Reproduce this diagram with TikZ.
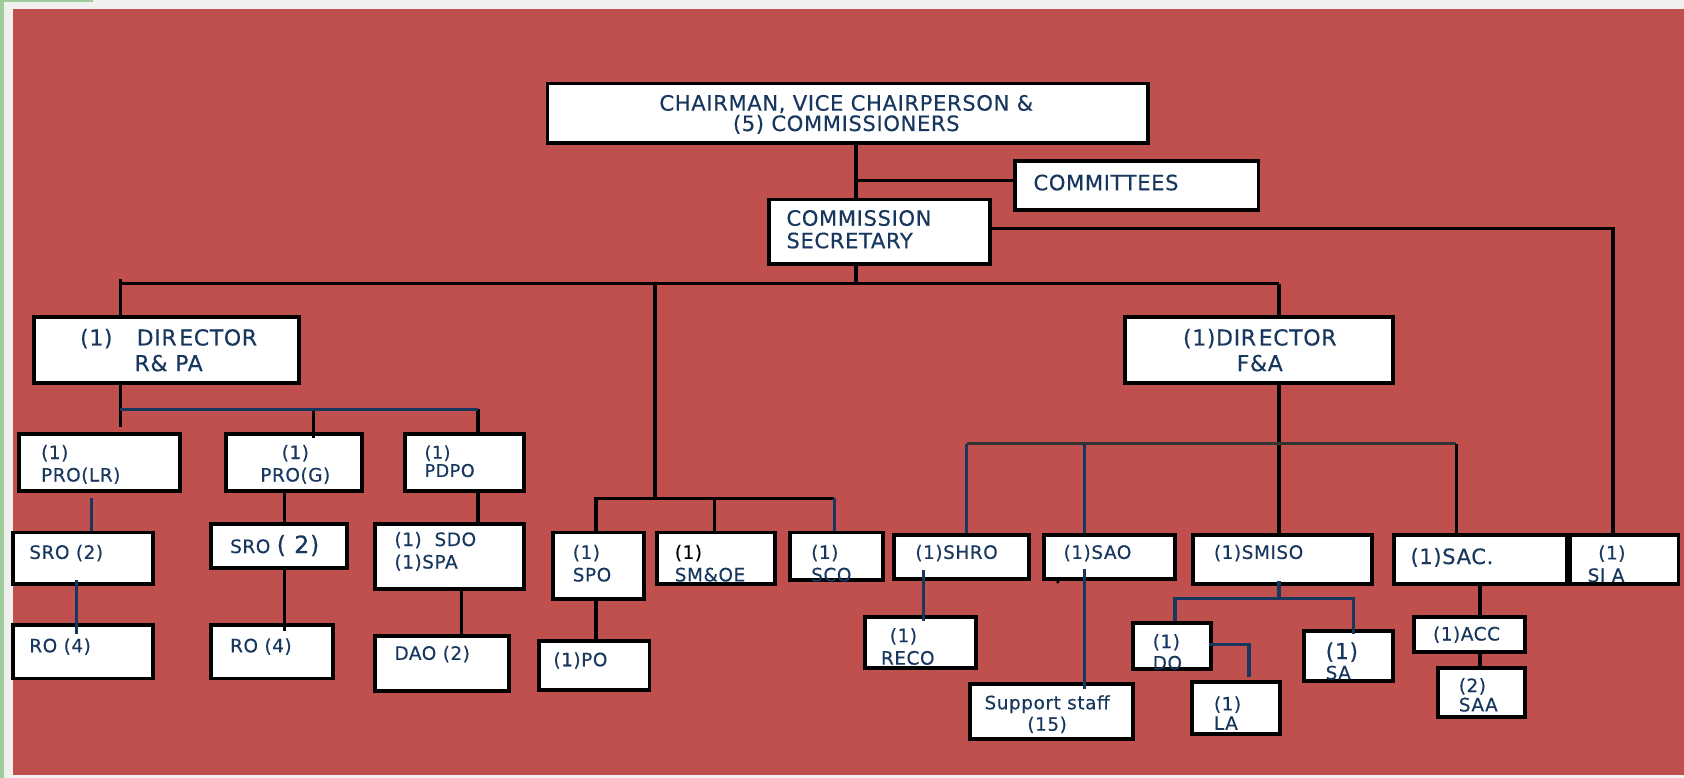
\documentclass[tikz,border=0pt]{standalone}
\usepackage{fontspec}
\setmainfont{DejaVu Sans}
\newfontfamily\orgfont[LetterSpace=3, FakeBold=0.4]{DejaVu Sans}
\usetikzlibrary{calc}
\definecolor{bgred}{HTML}{C0504D}
\definecolor{navy}{HTML}{17375E}
\definecolor{edgegreen}{HTML}{9DCC9A}
\definecolor{paper}{HTML}{F0F0F0}
\def\pxu{0.02148cm}
\tikzset{
  orgbox/.style={draw=black, fill=white, line width=2.2pt, inner sep=0pt, anchor=north west},
  wh/.style 2 args={minimum width=#1*\pxu, minimum height=#2*\pxu},
  bigtxt/.style={text=navy, inner sep=0pt, font=\orgfont\fontsize{12}{12.8}\selectfont},
  smalltxt/.style={text=navy, inner sep=0pt, font=\orgfont\fontsize{10.5}{12.8}\selectfont},
  conn/.style={draw=black, line width=1.9pt},
  bconn/.style={draw=navy, line width=1.9pt},
}

\begin{document}
\begin{tikzpicture}[x=\pxu, y=-\pxu]
        % page and background
        \useasboundingbox (0,0) rectangle (1568,724);
        \fill[paper] (0,0) rectangle (1568,724);
        \fill[edgegreen] (0,0) rectangle (4,724);
        \fill[edgegreen] (0,0) rectangle (87,2);
        \fill[bgred] (12,8) rectangle (1568,722);
        % boxes
        \node[orgbox, wh={559}{55}] (chair) at (508,76) {};
        \node[orgbox, wh={227}{46}] (comm) at (943,148) {};
        \node[orgbox, wh={206}{60}] (csec) at (714,184) {};
        \node[orgbox, wh={247}{62}] (dirR) at (30,293) {};
        \node[orgbox, wh={249}{62}] (dirF) at (1046,293) {};
        \node[orgbox, wh={150}{53}] (prolr) at (16,402) {};
        \node[orgbox, wh={126}{53}] (prog) at (209,402) {};
        \node[orgbox, wh={111}{53}] (pdpo) at (375,402) {};
        \node[orgbox, wh={131}{48}] (sroA) at (10,494) {};
        \node[orgbox, wh={131}{50}] (roA) at (10,580) {};
        \node[orgbox, wh={126}{41}] (sroB) at (195,486) {};
        \node[orgbox, wh={113}{50}] (roB) at (195,580) {};
        \node[orgbox, wh={139}{61}] (sdo) at (347,486) {};
        \node[orgbox, wh={125}{52}] (dao) at (347,590) {};
        \node[orgbox, wh={85}{62}] (spo) at (513,494) {};
        \node[orgbox, wh={110}{48}] (smoe) at (610,494) {};
        \node[orgbox, wh={86}{44}] (sco) at (734,494) {};
        \node[orgbox, wh={103}{46}] (po) at (500,595) {};
        \node[orgbox, wh={125}{41}] (shro) at (831,496) {};
        \node[orgbox, wh={122}{41}] (sao) at (970,496) {};
        \node[orgbox, wh={167}{46}] (smiso) at (1109,496) {};
        \node[orgbox, wh={161}{46}] (sac) at (1296,496) {};
        \node[orgbox, wh={101}{46}] (sia) at (1460,496) {};
        \node[orgbox, wh={103}{47}] (reco) at (804,573) {};
        \node[orgbox, wh={152}{51}] (supp) at (901,635) {};
        \node[orgbox, wh={73}{43}] (dob) at (1053,578) {};
        \node[orgbox, wh={82}{49}] (la) at (1108,633) {};
        \node[orgbox, wh={83}{46}] (sa) at (1212,586) {};
        \node[orgbox, wh={103}{32}] (acc) at (1315,573) {};
        \node[orgbox, wh={81}{46}] (saa) at (1337,620) {};
        % junctions
        \coordinate (jTop) at (797,168);
        \coordinate (jBus) at (797,264);
        \coordinate (jL) at (112,264);
        \coordinate (jM) at (610,264);
        \coordinate (jR) at (1191,264);
        \coordinate (jS) at (1502,213);
        \coordinate (jMid) at (610,464);
        \coordinate (jP) at (555,464);
        \coordinate (jQ) at (665,464);
        \coordinate (jC) at (777,464);
        \coordinate (kL) at (112,381);
        \coordinate (kG) at (292,381);
        \coordinate (kP) at (445,381);
        \coordinate (cA) at (85,464);
        \coordinate (cB) at (71,0);
        \coordinate (cG) at (265,0);
        \coordinate (cD) at (430,0);
        \coordinate (fB) at (1191,413);
        \coordinate (fH) at (900,413);
        \coordinate (fA) at (1010,413);
        \coordinate (fC) at (1356,413);
        \coordinate (cR) at (860,0);
        \coordinate (mB) at (1191,557);
        \coordinate (mD) at (1094,557);
        \coordinate (mS) at (1260,557);
        \coordinate (dL) at (1163,600);
        \coordinate (aC) at (1378,0);
        % top part
        \draw[conn] (chair.south -| jTop) -- (csec.north -| jTop);
        \draw[conn] (jTop) -- (comm.west |- jTop);
        \draw[conn] (csec.east |- jS) -- (jS) -- (sia.north -| jS);
        \draw[conn] (csec.south -| jBus) -- (jBus);
        \draw[conn] (jL) -- (jR);
        \draw[conn] ([yshift=4*\pxu]jL) -- (dirR.north -| jL);
        \draw[conn] (jR) -- (dirF.north -| jR);
        % R&PA branch
        \draw[conn] (dirR.south -| kL) -- ([yshift=4*\pxu]prolr.north -| kL);
        \draw[conn] (kG) -- ([yshift=-6*\pxu]prog.north -| kG);
        \draw[conn] (kP) -- (pdpo.north -| kP);
        \draw[bconn] (kL) -- (kP);
        \draw[bconn] (cA) -- (sroA.north -| cA);
        \draw[bconn] ([yshift=6*\pxu]sroA.south -| cB) -- ([yshift=-10*\pxu]roA.north -| cB);
        \draw[conn] (prog.south -| cG) -- (sroB.north -| cG);
        \draw[conn] (sroB.south -| cG) -- ([yshift=-8*\pxu]roB.north -| cG);
        \draw[conn] (pdpo.south -| kP) -- (sdo.north -| kP);
        \draw[conn] (sdo.south -| cD) -- (dao.north -| cD);
        % middle branch
        \draw[conn] (jM) -- (jMid);
        \draw[conn] (spo.north -| jP) -- (jP) -- (jC);
        \draw[conn] (jQ) -- (smoe.north -| jQ);
        \draw[bconn] (jC) -- (sco.north -| jC);
        \draw[conn] (spo.south -| jP) -- (po.north -| jP);
        % F&A branch
        \draw[conn] (dirF.south -| fB) -- (smiso.north -| fB);
        \draw[draw=black!80, line width=1.9pt] (fH) -- (fC);
        \draw[bconn] (fH) -- (shro.north -| fH);
        \draw[bconn] (fA) -- (sao.north -| fA);
        \draw[conn] (fC) -- (sac.north -| fC);
        \draw[bconn] ([yshift=10*\pxu]shro.south -| cR) -- ([yshift=-5*\pxu]reco.north -| cR);
        \draw[bconn] ([yshift=11*\pxu]sao.south -| fA) -- ([yshift=-7*\pxu]supp.north -| fA);
        \draw[bconn] ([yshift=5*\pxu]smiso.south -| mB) -- (mB);
        \draw[bconn] (dob.north -| mD) -- (mD) -- (mS) -- ([yshift=-4*\pxu]sa.north -| mS);
        \draw[bconn] ([xshift=-4*\pxu]dob.east |- dL) -- (dL) -- ([yshift=3*\pxu]la.north -| dL);
        \draw[conn] (sac.south -| aC) -- (acc.north -| aC);
        \draw[conn] (acc.south -| aC) -- (saa.north -| aC);
        \fill (985,542) circle (1pt);
        % texts
        \node[bigtxt, align=center, font=\orgfont\fontsize{12}{11.6}\selectfont] (tChair) at (788,106.5) {CHAIRMAN, VICE CHAIRPERSON \&\\(5) COMMISSIONERS};
        \node[bigtxt, anchor=west] (tComm) at (962,170) {COMMITTEES};
        \node[bigtxt, anchor=west, align=left] (tCsec) at (732,213.5) {COMMISSION\\SECRETARY};
        \node[bigtxt, align=center, font=\orgfont\fontsize{12.5}{14.6}\selectfont] (tDirR) at (157,326) {(1)\hspace{1.1em}DIR\kern1.5pt ECTOR\\R\& PA};
        \node[bigtxt, align=center, font=\orgfont\fontsize{12.5}{14.6}\selectfont] (tDirF) at (1173,326) {(1)DIR\kern1.5pt ECTOR\\F\&A};
        \node[smalltxt, anchor=west, align=left] (tProlr) at (38,432.5) {(1)\\PRO(LR)};
        \node[smalltxt, align=center] (tProg) at (275,432.5) {(1)\\PRO(G)};
        \node[smalltxt, anchor=west, align=left, font=\orgfont\fontsize{10}{10.4}\selectfont] (tPdpo) at (395,429.5) {(1)\\PDPO};
        \node[smalltxt, anchor=west] (tSroA) at (27,515) {SRO (2)};
        \node[smalltxt, anchor=west] (tRoA) at (27,602) {RO (4)};
        \node[smalltxt, anchor=west] (tSroB) at (214,508) {SRO {\fontsize{13.5}{14}\selectfont( 2)}};
        \node[smalltxt, anchor=west] (tRoB) at (214,602) {RO (4)};
        \node[smalltxt, anchor=west, align=left] (tSdo) at (367,513.5) {(1)\ \ SDO\\(1)SPA};
        \node[smalltxt, anchor=west] (tDao) at (367,609) {DAO (2)};
        \node[smalltxt, anchor=west, align=left] (tSpo) at (533,524.5) {(1)\\SPO};
        \node[smalltxt, anchor=west, align=left] (tSmoe) at (628,524.5) {{\color{black}(1)}\\SM\&OE};
        \node[smalltxt, anchor=west, align=left] (tSco) at (755,524.5) {(1)\\SCO};
        \node[smalltxt, anchor=west] (tPo) at (515,615) {(1)PO};
        \node[smalltxt, anchor=west] (tShro) at (852,515) {(1)SHRO};
        \node[smalltxt, anchor=west] (tSao) at (990,515) {(1)SAO};
        \node[smalltxt, anchor=west] (tSmiso) at (1130,515) {(1)SMISO};
        \node[smalltxt, anchor=west, font=\orgfont\fontsize{12}{13}\selectfont] (tSac) at (1313,519) {(1)SAC.};
        \node[smalltxt, anchor=west, align=left] (tSia) at (1478,525) {\hspace*{6pt}(1)\\SI A};
        \node[smalltxt, anchor=west, align=left] (tReco) at (820,602) {\hspace*{5pt}(1)\\RECO};
        \node[smalltxt, align=center, font=\orgfont\fontsize{10.5}{12.2}\selectfont] (tSupp) at (975,665) {Support staff\\(15)};
        \node[smalltxt, anchor=west, align=left, font=\orgfont\fontsize{10.5}{12.2}\selectfont] (tDo) at (1073,607) {(1)\\DO};
        \node[smalltxt, anchor=west, align=left, font=\orgfont\fontsize{10.5}{11}\selectfont] (tLa) at (1130,664) {(1)\\LA};
        \node[smalltxt, anchor=west, align=left, font=\orgfont\fontsize{10.5}{11.6}\selectfont] (tSa) at (1234,615.5) {{\fontsize{12.5}{13}\selectfont(1)}\\SA};
        \node[smalltxt, anchor=west] (tAcc) at (1334,591) {(1)ACC};
        \node[smalltxt, anchor=west, align=left, font=\orgfont\fontsize{10.5}{11}\selectfont] (tSaa) at (1358,647) {(2)\\SAA};
    \end{tikzpicture}
\end{document}
